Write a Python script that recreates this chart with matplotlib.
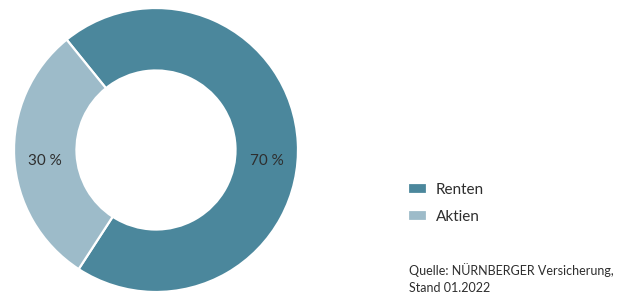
import matplotlib
matplotlib.use("Agg")
import matplotlib.pyplot as plt

# data
labels = ["Renten", "Aktien"]
shares = [70, 30]
colors = ["#4b879c", "#9dbbc9"]
source = "Quelle: NÜRNBERGER Versicherung,\nStand 01.2022"

plt.rcParams["font.family"] = ["Lato", "DejaVu Sans"]
W, H = 626, 293
fig = plt.figure(figsize=(W / 100, H / 100), dpi=100)

# donut axes: centre (156,150) px, radius 142 px
cx, cy, r = 156, 150, 142
ax = fig.add_axes([(cx - r) / W, (H - cy - r) / H, 2 * r / W, 2 * r / H])
wedges, _, pcts = ax.pie(
    shares, colors=colors, startangle=129, counterclock=False,
    radius=1, autopct=lambda p: "%d %%" % round(p), pctdistance=0.78,
    wedgeprops=dict(width=0.44, edgecolor="white", linewidth=1.6),
    textprops=dict(fontsize=11, color="#2e2e2e"))
# labels sit on the horizontal, a little below the centre
for t in pcts:
    x, y = t.get_position()
    t.set_position((0.78 * (1 if x > 0 else -1), -0.08))
ax.set_xlim(-1, 1)
ax.set_ylim(-1, 1)
ax.set_aspect("equal")
ax.axis("off")

fig.legend(wedges, labels, loc="upper left",
           bbox_to_anchor=(408 / W, 1 - 183 / H), frameon=False,
           fontsize=11, handlelength=1.25, handleheight=0.72,
           handletextpad=0.55, labelspacing=0.86, borderpad=0,
           borderaxespad=0, labelcolor="#2e2e2e")

fig.text(409 / W, 1 - 278.5 / H, source, fontsize=9, color="#2e2e2e",
         va="center", ha="left", linespacing=1.5)

fig.savefig("out.png", dpi=100)
